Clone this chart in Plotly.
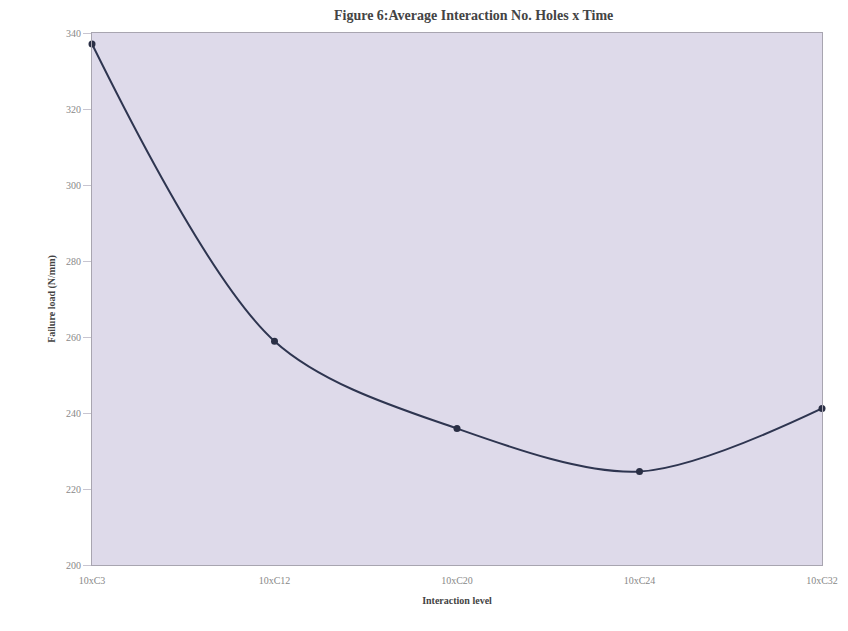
import plotly.graph_objects as go

categories = ["10xC3", "10xC12", "10xC20", "10xC24", "10xC32"]
values = [337.1, 258.9, 235.9, 224.6, 241.2]
y_ticks = [200, 220, 240, 260, 280, 300, 320, 340]

x_idx = list(range(len(categories)))

fig = go.Figure()
fig.add_trace(go.Scatter(
    x=x_idx, y=values, mode="lines+markers",
    line=dict(color="#2e3550", width=2, shape="spline", smoothing=0.9),
    marker=dict(color="#2a2f45", size=7),
    cliponaxis=False, showlegend=False,
))

font_family = "Liberation Serif"
fig.update_layout(
    width=842, height=631,
    margin=dict(l=84, r=18, t=25, b=74),
    paper_bgcolor="white", plot_bgcolor="#dedaea",
    title=dict(text="<b>Figure 6:Average Interaction No. Holes x Time</b>", x=0.553, xanchor="center",
               y=0.997, yanchor="top", font=dict(family=font_family, size=14, color="#444444")),
    font=dict(family=font_family, size=10, color="#777777"),
)
fig.update_xaxes(
    range=[0, 4], tickvals=x_idx, ticktext=categories, showgrid=False, zeroline=False,
    showline=True, linecolor="#a8a5b0", linewidth=1, mirror=True,
    ticks="outside", ticklen=6, tickcolor="rgba(0,0,0,0)",
    title=dict(text="<b>Interaction level</b>", font=dict(family=font_family, size=10, color="#444444"), standoff=11),
    tickfont=dict(family=font_family, size=10, color="#888888"),
)
fig.update_yaxes(
    range=[200, 340], tickvals=y_ticks, showgrid=False, zeroline=False,
    showline=True, linecolor="#a8a5b0", linewidth=1, mirror=True,
    ticks="outside", ticklen=8, tickcolor="#c8c5d0",
    title=dict(text="<b>Failure load (N/mm)</b>", font=dict(family=font_family, size=10, color="#444444"), standoff=8),
    tickfont=dict(family=font_family, size=10, color="#888888"),
)

fig.write_html("out.html")
